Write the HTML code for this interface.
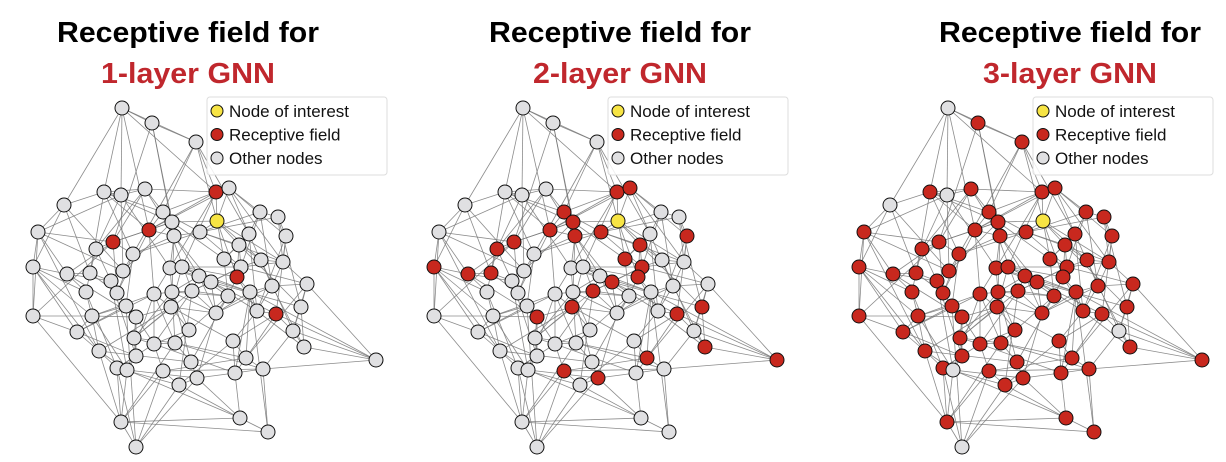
<!DOCTYPE html>
<html><head><meta charset="utf-8"><style>
html,body{margin:0;padding:0;background:#fff;}
svg{display:block}
</style></head><body>
<svg id="s" width="1226" height="462" xmlns="http://www.w3.org/2000/svg">
<g font-family="Liberation Sans, sans-serif" font-weight="bold" text-anchor="middle">
<text x="188" y="42" font-size="29" fill="#000" textLength="262" lengthAdjust="spacingAndGlyphs">Receptive field for</text>
<text x="188" y="83" font-size="29" fill="#c0272d" textLength="174" lengthAdjust="spacingAndGlyphs">1-layer GNN</text>
<text x="620" y="42" font-size="29" fill="#000" textLength="262" lengthAdjust="spacingAndGlyphs">Receptive field for</text>
<text x="620" y="83" font-size="29" fill="#c0272d" textLength="174" lengthAdjust="spacingAndGlyphs">2-layer GNN</text>
<text x="1070" y="42" font-size="29" fill="#000" textLength="262" lengthAdjust="spacingAndGlyphs">Receptive field for</text>
<text x="1070" y="83" font-size="29" fill="#c0272d" textLength="174" lengthAdjust="spacingAndGlyphs">3-layer GNN</text>
</g>
<g id="g"></g>
</svg>
<script>
var P=[[122,108],[152,123],[196,142],[216,192],[229,188],[217,221],[104,192],[121,195],[145,189],[64,205],[163,212],[172,222],[149,230],[174,236],[200,232],[260,212],[278,217],[249,234],[286,236],[38,232],[113,242],[96,249],[133,254],[239,245],[33,267],[67,274],[90,273],[123,271],[170,268],[182,267],[224,259],[241,267],[261,260],[283,262],[237,277],[199,276],[211,282],[111,281],[272,286],[307,284],[86,292],[117,293],[154,294],[172,292],[192,291],[228,296],[250,292],[126,306],[171,307],[33,316],[92,316],[136,317],[216,313],[257,311],[276,314],[301,307],[77,332],[189,330],[293,331],[134,338],[233,341],[154,344],[175,343],[99,351],[136,356],[304,347],[246,358],[376,360],[117,368],[127,370],[163,371],[191,362],[197,378],[235,373],[263,369],[179,385],[121,422],[240,418],[268,432],[136,447]];
var N=P.length;
var seed=7;function rnd(){seed=(seed*16807)%2147483647;return seed/2147483647;}
var E={};function add(a,b){if(a==b)return;var k=a<b?a+'_'+b:b+'_'+a;E[k]=[a,b];}
for(var i=0;i<N;i++){var d=[];for(var j=0;j<N;j++)if(j!=i)d.push([Math.hypot(P[i][0]-P[j][0],P[i][1]-P[j][1]),j]);d.sort(function(a,b){return a[0]-b[0]});
 add(i,d[0][1]);add(i,d[1][1]);if(rnd()<0.6)add(i,d[2+Math.floor(rnd()*5)][1]);
 for(var t=0;t<2;t++){var j2=d[4+Math.floor(rnd()*20)][1];add(i,j2);}}
var M=[[1,8],[1,13],[2,3],[2,12],[3,11],[3,6],[3,18],[68,66],[68,55],[10,20],[20,25],[25,50],[50,57],[77,80],[79,78],[77,69],[80,69],[78,74],[79,75],[4,13],[5,16]];
M.forEach(function(m){add(m[0]-1,m[1]-1)});
var red2=[4,5,11,12,13,14,15,19,21,22,24,25,26,27,31,32,35,37,45,49,52,55,56,66,67,68,71,73];
var red1=[4,13,21,35,55];
var gray3=[1,8,10,59,70,80];
var offs=[0,401,826];
var h='';
for(var p=0;p<3;p++){var o=offs[p];
 h+='<g stroke="#777" stroke-width="0.8" stroke-opacity="0.85">';
 for(var k in E){var e=E[k];h+='<line x1="'+(P[e[0]][0]+o)+'" y1="'+P[e[0]][1]+'" x2="'+(P[e[1]][0]+o)+'" y2="'+P[e[1]][1]+'"/>';}
 h+='</g><g stroke="#111" stroke-width="1">';
 for(var i=0;i<N;i++){var id=i+1,c='#e0e0e2';
  if(p==0&&red1.indexOf(id)>=0)c='#c8281e';
  if(p==1&&red2.indexOf(id)>=0)c='#c8281e';
  if(p==2&&gray3.indexOf(id)<0)c='#c8281e';
  if(id==6)c='#f7e444';
  h+='<circle cx="'+(P[i][0]+o)+'" cy="'+P[i][1]+'" r="7" fill="'+c+'"/>';}
 h+='</g>';
 var lx=207+o;
 h+='<rect x="'+lx+'" y="97" width="180" height="78" rx="3" fill="#fff" fill-opacity="0.85" stroke="#ddd"/>';
 var L=[['#f7e444','Node of interest'],['#c8281e','Receptive field'],['#e0e0e2','Other nodes']];
 for(var q=0;q<3;q++){var y=111+q*23.5;
  h+='<circle cx="'+(lx+10)+'" cy="'+y+'" r="6" fill="'+L[q][0]+'" stroke="#111"/>';
  h+='<text x="'+(lx+22)+'" y="'+(y+6)+'" font-family="Liberation Sans, sans-serif" font-size="17" fill="#111">'+L[q][1]+'</text>';}
}
document.getElementById('g').innerHTML=h;
</script>
</body></html>
